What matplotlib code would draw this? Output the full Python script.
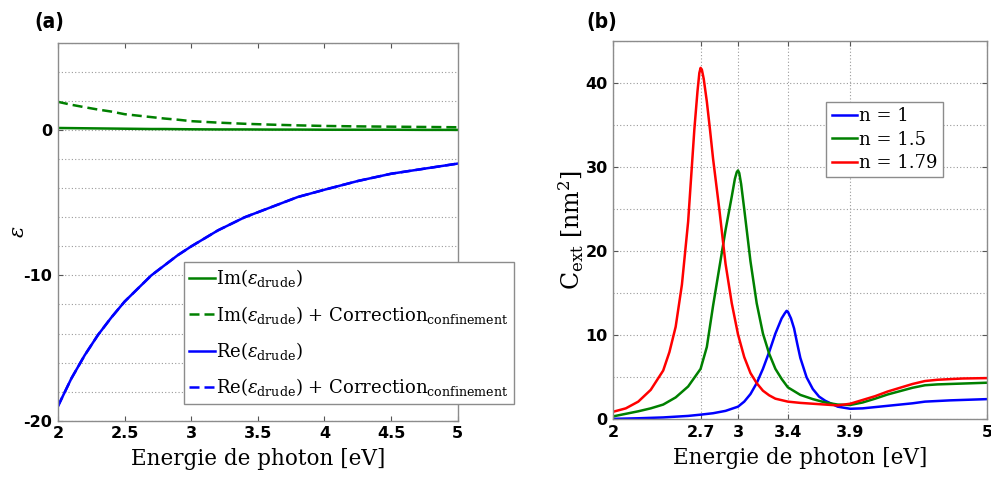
import matplotlib
matplotlib.use("Agg")
import matplotlib.pyplot as plt
from matplotlib.ticker import MultipleLocator

plt.rcParams["mathtext.fontset"] = "dejavuserif"

# (a) Drude permittivity
energy_a = [2.0, 2.1, 2.2, 2.3, 2.4, 2.5, 2.6, 2.7, 2.8, 2.9, 3.0,
            3.2, 3.4, 3.6, 3.8, 4.0, 4.25, 4.5, 4.75, 5.0]
im_drude = [0.15, 0.14, 0.13, 0.12, 0.11, 0.10, 0.09, 0.08, 0.08, 0.07, 0.06,
            0.05, 0.05, 0.04, 0.04, 0.03, 0.03, 0.03, 0.02, 0.02]
im_drude_corr = [1.95, 1.75, 1.58, 1.42, 1.28, 1.10, 1.00, 0.90, 0.80, 0.72, 0.62,
                 0.52, 0.44, 0.38, 0.33, 0.29, 0.26, 0.24, 0.22, 0.20]
re_drude = [-19.0, -17.1, -15.5, -14.1, -12.9, -11.8, -10.9, -10.0, -9.3, -8.6, -8.0,
            -6.9, -6.0, -5.3, -4.6, -4.1, -3.5, -3.0, -2.65, -2.3]
re_drude_corr = [-19.0, -17.1, -15.5, -14.1, -12.9, -11.8, -10.9, -10.0, -9.3, -8.6, -8.0,
                 -6.9, -6.0, -5.3, -4.6, -4.1, -3.5, -3.0, -2.65, -2.3]

# (b) extinction cross-section, one energy list per curve
energy_n1 = [2.0, 2.2, 2.4, 2.6, 2.7, 2.8, 2.9, 3.0, 3.05, 3.1, 3.15, 3.2, 3.25, 3.3,
             3.35, 3.375, 3.39, 3.4, 3.425, 3.45, 3.475, 3.5, 3.55, 3.6, 3.65, 3.7,
             3.8, 3.9, 4.0, 4.2, 4.4, 4.5, 4.7, 5.0]
c_n1 = [0.05, 0.12, 0.22, 0.40, 0.55, 0.72, 1.0, 1.5, 2.1, 3.0, 4.3, 6.0, 8.0, 10.2,
        12.0, 12.6, 12.9, 12.8, 12.0, 10.8, 9.0, 7.3, 5.0, 3.6, 2.7, 2.2,
        1.5, 1.25, 1.3, 1.6, 1.9, 2.1, 2.25, 2.4]
energy_n15 = [2.0, 2.1, 2.2, 2.3, 2.4, 2.5, 2.6, 2.7, 2.75, 2.8, 2.85, 2.9, 2.95, 2.975,
              2.99, 3.0, 3.01, 3.025, 3.05, 3.1, 3.15, 3.2, 3.25, 3.3, 3.35, 3.4, 3.5,
              3.6, 3.7, 3.8, 3.9, 4.0, 4.1, 4.2, 4.3, 4.4, 4.5, 4.6, 4.8, 5.0]
c_n15 = [0.35, 0.65, 0.95, 1.3, 1.75, 2.6, 3.9, 6.0, 8.6, 13.5, 18.0, 22.5, 26.5, 28.6,
         29.4, 29.6, 29.3, 28.0, 25.0, 18.8, 13.8, 10.2, 7.8, 6.0, 4.8, 3.8, 2.9,
         2.4, 2.0, 1.75, 1.7, 2.0, 2.45, 2.95, 3.35, 3.75, 4.05, 4.15, 4.25, 4.35]
energy_n179 = [2.0, 2.1, 2.2, 2.3, 2.4, 2.45, 2.5, 2.55, 2.6, 2.625, 2.65, 2.675, 2.69,
               2.7, 2.71, 2.725, 2.75, 2.775, 2.8, 2.85, 2.9, 2.95, 3.0, 3.05, 3.1,
               3.15, 3.2, 3.25, 3.3, 3.4, 3.5, 3.6, 3.7, 3.8, 3.9, 4.0, 4.1, 4.2, 4.3,
               4.4, 4.5, 4.6, 4.8, 5.0]
c_n179 = [0.9, 1.3, 2.1, 3.5, 5.8, 8.0, 11.0, 16.0, 23.5, 29.0, 34.5, 39.0, 41.2,
          41.8, 41.6, 40.5, 37.8, 34.5, 31.0, 25.0, 18.5, 13.8, 10.1, 7.4, 5.5,
          4.3, 3.4, 2.85, 2.45, 2.1, 1.95, 1.85, 1.75, 1.65, 1.85, 2.3, 2.75, 3.3, 3.75,
          4.2, 4.55, 4.7, 4.85, 4.9]
xticks_b = [2, 2.7, 3, 3.4, 3.9, 5]
xticklabels_b = ["2", "2.7", "3", "3.4", "3.9", "5"]

GREEN = "#008000"
BLUE = "#0000ff"
RED = "#ff0000"
EDGE = "#8c8c8c"
GRID = "#9a9a9a"
LABEL_FONT = "DejaVu Serif"
TICK_FONT = "DejaVu Sans"


def style_axes(ax):
    for sp in ax.spines.values():
        sp.set_color(EDGE)
        sp.set_linewidth(1.0)
    ax.tick_params(which="both", direction="in", top=True, right=True,
                   color="#555555", labelsize=11.5, pad=4)
    ax.tick_params(which="minor", length=0)
    for lab in ax.get_xticklabels() + ax.get_yticklabels():
        lab.set_fontfamily(TICK_FONT)
        lab.set_fontweight("semibold")


fig = plt.figure(figsize=(9.91, 4.92), dpi=100)

# ---- panel (a)
ax1 = fig.add_axes([0.0585, 0.1449, 0.4034, 0.7677])
ax1.plot(energy_a, im_drude, color=GREEN, lw=1.8, label=r"Im($\varepsilon_{\rm drude}$)")
ax1.plot(energy_a, im_drude_corr, color=GREEN, lw=1.8, ls=(0, (4, 2)),
         label=r"Im($\varepsilon_{\rm drude}$) + Correction$_{\rm confinement}$")
ax1.plot(energy_a, re_drude, color=BLUE, lw=1.8, label=r"Re($\varepsilon_{\rm drude}$)")
ax1.plot(energy_a, re_drude_corr, color=BLUE, lw=1.8, ls=(0, (4, 2)),
         label=r"Re($\varepsilon_{\rm drude}$) + Correction$_{\rm confinement}$")
ax1.set_xlim(2, 5)
ax1.set_ylim(-20, 6)
ax1.set_xticks([2, 2.5, 3, 3.5, 4, 4.5, 5])
ax1.set_xticklabels(["2", "2.5", "3", "3.5", "4", "4.5", "5"])
ax1.set_yticks([-20, -10, 0])
ax1.set_yticklabels(["-20", "-10", "0"])
ax1.yaxis.set_minor_locator(MultipleLocator(2))
ax1.grid(True, axis="y", which="both", color=GRID, ls=(0, (1, 2)), lw=0.8)
style_axes(ax1)
ax1.set_xlabel("Energie de photon [eV]", fontfamily=LABEL_FONT, fontsize=15.5, labelpad=5)
ax1.set_ylabel(r"$\varepsilon$", fontsize=15)
ax1.yaxis.set_label_coords(-0.075, 0.5)
leg1 = ax1.legend(loc="upper left", bbox_to_anchor=(0.315, 0.421), borderaxespad=0,
                  fancybox=False, framealpha=1, edgecolor=EDGE, handlelength=1.4,
                  handletextpad=0.1, borderpad=0.3, labelspacing=0.8,
                  prop={"family": LABEL_FONT, "size": 13})
leg1.get_frame().set_linewidth(1.0)
fig.text(0.035, 0.955, "(a)", fontsize=15, fontweight="bold", fontfamily="DejaVu Sans",
         fontstretch="condensed", va="center")

# ---- panel (b)
ax2 = fig.add_axes([0.6189, 0.1478, 0.3774, 0.7689])
ax2.plot(energy_n1, c_n1, color=BLUE, lw=1.8, label="n = 1")
ax2.plot(energy_n15, c_n15, color=GREEN, lw=1.8, label="n = 1.5")
ax2.plot(energy_n179, c_n179, color=RED, lw=1.8, label="n = 1.79")
ax2.set_xlim(2, 5)
ax2.set_ylim(0, 45)
ax2.set_xticks(xticks_b)
ax2.set_xticklabels(xticklabels_b)
ax2.set_yticks([0, 10, 20, 30, 40])
ax2.set_yticklabels(["0", "10", "20", "30", "40"])
ax2.yaxis.set_minor_locator(MultipleLocator(5))
ax2.grid(True, axis="y", which="both", color=GRID, ls=(0, (1, 2)), lw=0.8)
ax2.grid(True, axis="x", which="major", color=GRID, ls=(0, (1, 2)), lw=0.8)
style_axes(ax2)
ax2.set_xlabel("Energie de photon [eV]", fontfamily=LABEL_FONT, fontsize=15.5, labelpad=5)
ax2.set_ylabel(r"C$_{\rm ext}$ [nm$^2$]", fontfamily=LABEL_FONT, fontsize=17, labelpad=0)
leg2 = ax2.legend(loc="upper left", bbox_to_anchor=(0.569, 0.8395), borderaxespad=0,
                  fancybox=False, framealpha=1, edgecolor=EDGE, handlelength=1.4,
                  handletextpad=0.1, borderpad=0.3, labelspacing=0.3,
                  prop={"family": LABEL_FONT, "size": 13})
leg2.get_frame().set_linewidth(1.0)
fig.text(0.592, 0.955, "(b)", fontsize=15, fontweight="bold", fontfamily="DejaVu Sans",
         fontstretch="condensed", va="center")

fig.savefig("out.png", dpi=100)
